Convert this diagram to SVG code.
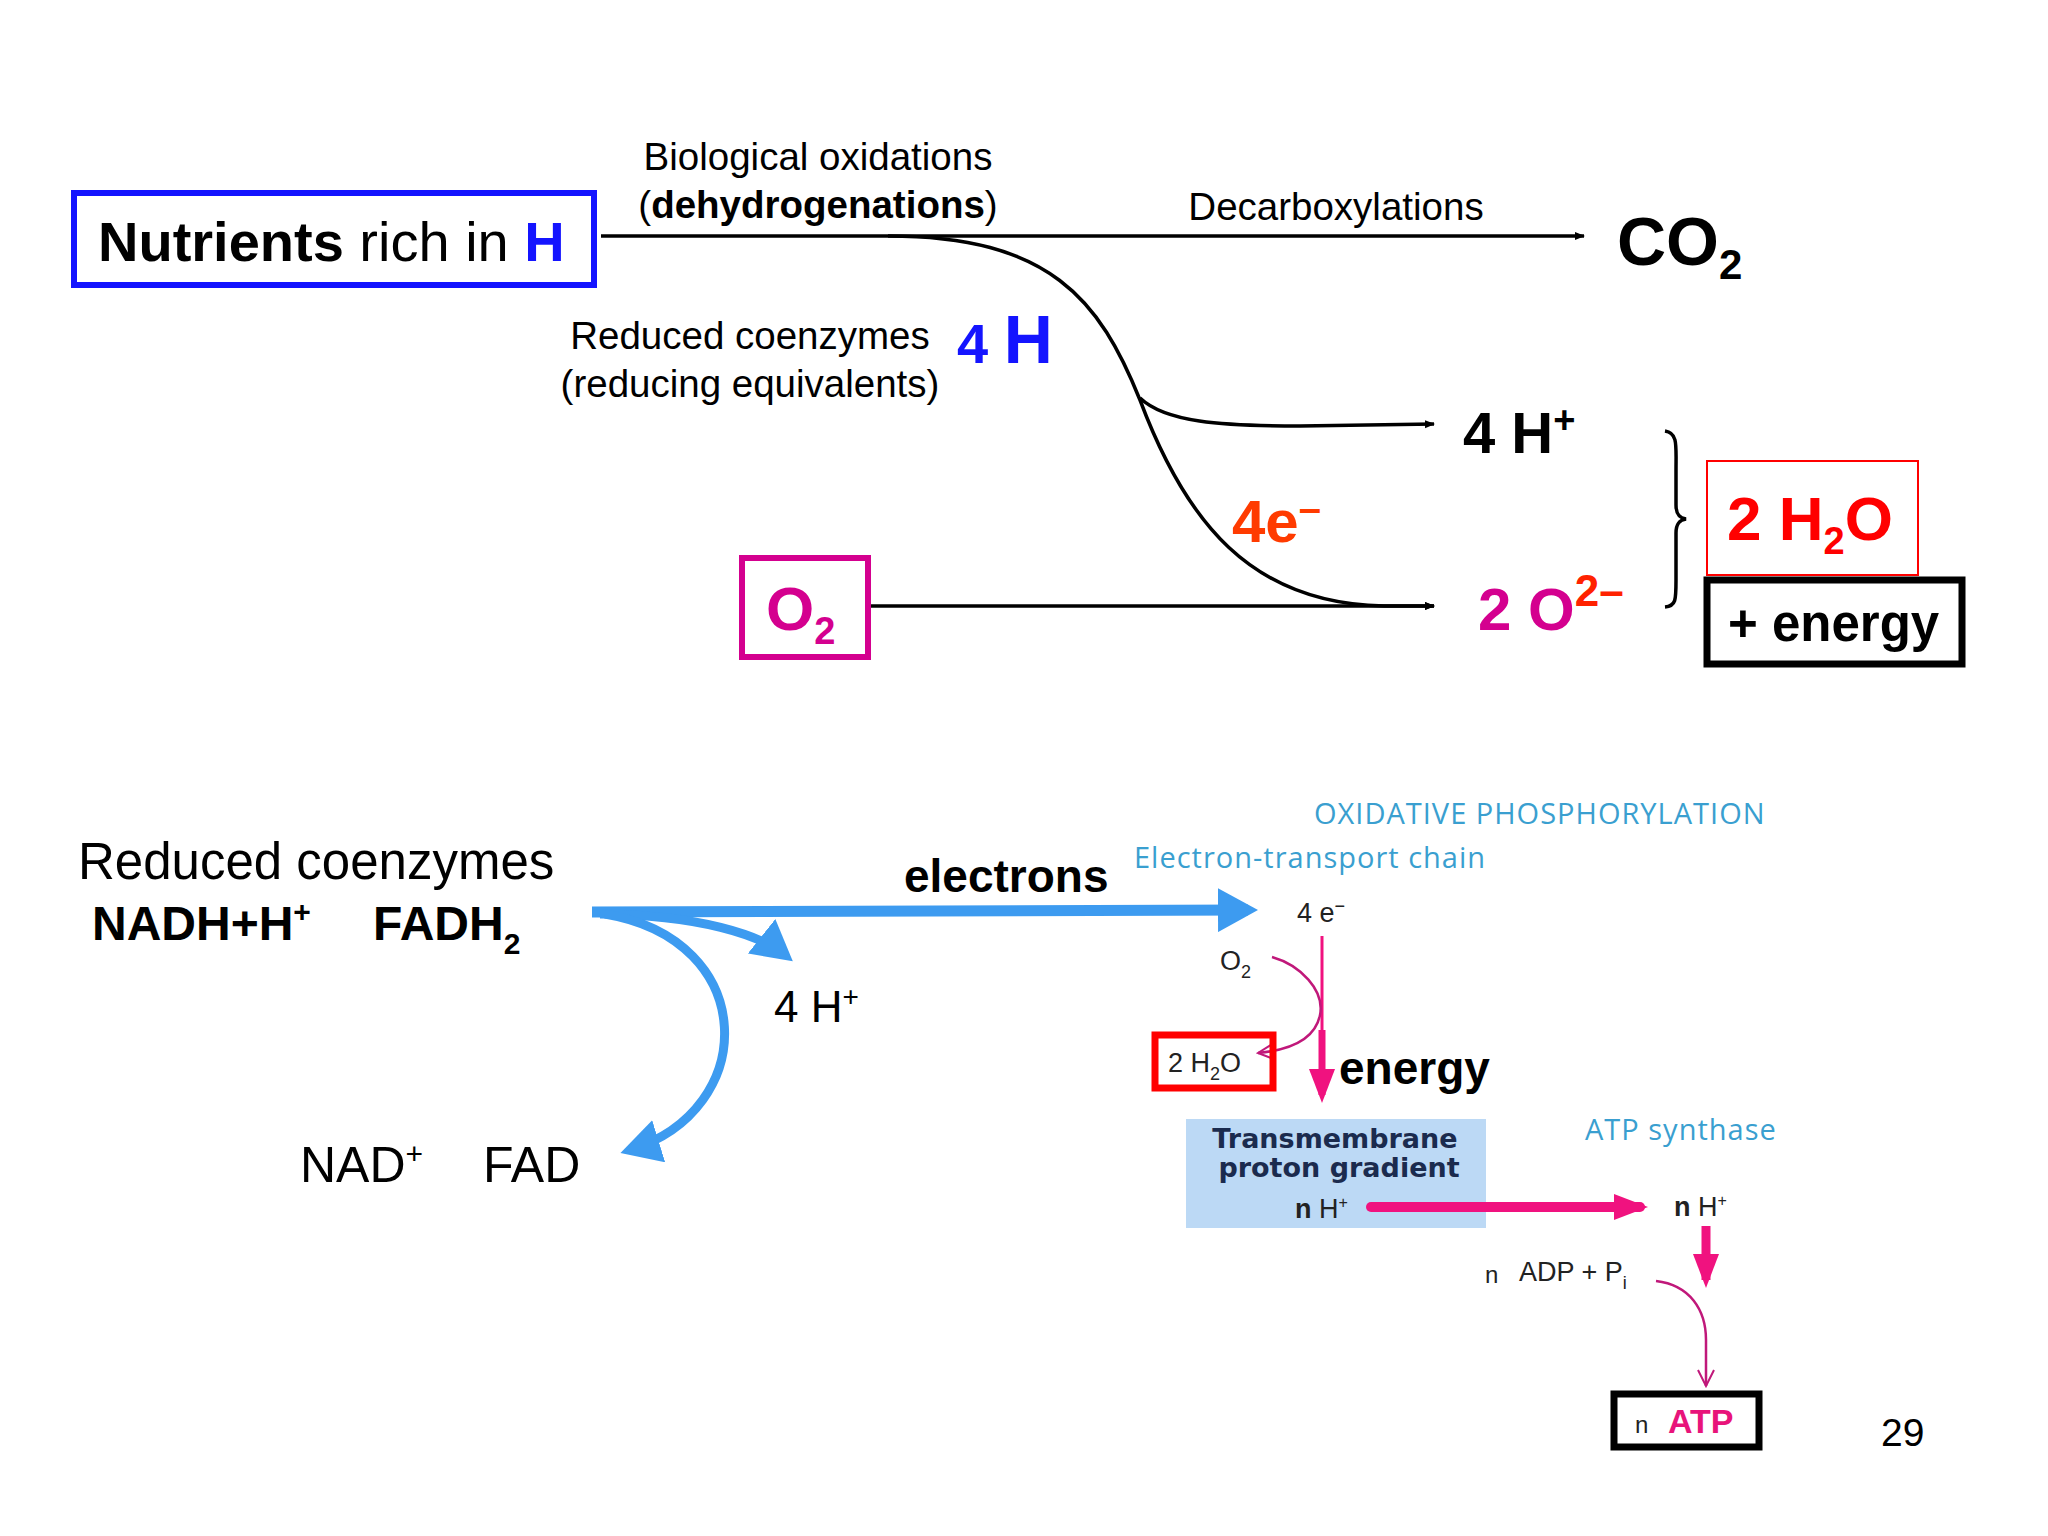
<svg xmlns="http://www.w3.org/2000/svg" width="2048" height="1536" viewBox="0 0 2048 1536">
<style>
text{font-family:"Liberation Sans",Arial,sans-serif}
.b{font-weight:bold}
.ln{fill:none;stroke:#000;stroke-width:3.5}
.bl{fill:none;stroke:#3d9bf0}
.mg{fill:none;stroke:#f0127f}
.cy{fill:#3a9fd0;font-family:"Open Sans","DejaVu Sans",sans-serif;letter-spacing:1px}
.nv{fill:#1b2b4e;font-family:"DejaVu Sans",sans-serif;font-weight:bold}
</style>
<defs>
<marker id="ab" markerWidth="10" markerHeight="10" refX="9" refY="5" orient="auto" markerUnits="userSpaceOnUse" viewBox="0 0 10 10"><path d="M0,1 L10,5 L0,9z" fill="#000"/></marker>
<marker id="abl" markerWidth="44" markerHeight="44" refX="30" refY="22" orient="auto" markerUnits="userSpaceOnUse" viewBox="0 0 44 44"><path d="M0,0 L40,22 L0,44z" fill="#3d9bf0"/></marker>
<marker id="am" markerWidth="34" markerHeight="34" refX="26" refY="17" orient="auto" markerUnits="userSpaceOnUse" viewBox="0 0 34 34"><path d="M0,4 L34,17 L0,30z" fill="#f0127f"/></marker>
<marker id="amt" markerWidth="20" markerHeight="20" refX="18" refY="10" orient="auto" markerUnits="userSpaceOnUse" viewBox="0 0 20 20"><path d="M2,2 L18,10 L2,18" fill="none" stroke="#c0187a" stroke-width="2"/></marker>
</defs>
<rect width="2048" height="1536" fill="#fff"/>
<rect id="gradient-bg" x="1186" y="1119" width="300" height="109" fill="#bcd9f5"/>
<g id="connectors">
<path class="ln" d="M601 236 L1584 236" marker-end="url(#ab)"/>
<path class="ln" d="M888 236 C1050 236 1100 300 1140 400 C1185 520 1250 604 1384 606 L1434 606" marker-end="url(#ab)"/>
<path class="ln" d="M1140 398 C1165 422 1220 426 1300 426 L1434 424" marker-end="url(#ab)"/>
<path class="ln" d="M870 606 L1434 606" marker-end="url(#ab)"/>
<path class="ln" stroke-width="2" d="M1665 431 C1678 433 1676 445 1676 470 L1676 505 C1676 515 1680 518 1686 519 C1680 520 1676 523 1676 533 L1676 580 C1676 600 1676 606 1665 607"/>
<path class="bl" stroke-width="11" d="M592 912 L1248 910" marker-end="url(#abl)"/>
<path class="bl" stroke-width="9" d="M600 914 C700 915 760 935 785 955" marker-end="url(#abl)"/>
<path class="bl" stroke-width="9" d="M605 914 C760 940 760 1110 630 1150" marker-end="url(#abl)"/>
<path class="mg" stroke-width="3" d="M1322 936 L1322 1030"/>
<path class="mg" stroke-width="7" d="M1322 1030 L1322 1095" marker-end="url(#am)"/>
<path fill="none" stroke="#c0187a" stroke-width="2.5" d="M1272 957 C1300 965 1325 990 1320 1015 C1315 1040 1290 1050 1258 1053" marker-end="url(#amt)"/>
<path class="mg" stroke-width="10" stroke-linecap="round" d="M1371 1207 L1640 1207" marker-end="url(#am)"/>
<path class="mg" stroke-width="9" d="M1706 1226 L1706 1280" marker-end="url(#am)"/>
<path fill="none" stroke="#c0187a" stroke-width="2.5" d="M1656 1281 C1690 1285 1706 1310 1706 1340 L1706 1386" marker-end="url(#amt)"/>
</g>
<g id="nutrients"><rect x="74" y="193" width="520" height="92" fill="none" stroke="#1414ff" stroke-width="6"/>
<text x="98" y="261" font-size="56"><tspan class="b">Nutrients</tspan> rich in <tspan class="b" fill="#1414ff">H</tspan></text></g>
<g id="labels-top">
<text x="818" y="170" font-size="38.5" text-anchor="middle">Biological oxidations</text>
<text x="818" y="218" font-size="38.5" text-anchor="middle">(<tspan class="b">dehydrogenations</tspan>)</text>
<text x="1336" y="220" font-size="38.5" text-anchor="middle">Decarboxylations</text>
<text x="750" y="349" font-size="38.5" text-anchor="middle">Reduced coenzymes</text>
<text x="750" y="397" font-size="38.5" text-anchor="middle">(reducing equivalents)</text>
<text x="957" y="363" class="b" fill="#1414ff" font-size="56">4 <tspan font-size="68">H</tspan></text>
<text x="1232" y="542" class="b" fill="#ff3b00" font-size="60">4e<tspan dy="-20" font-size="40">–</tspan></text>
</g>
<g id="co2"><text x="1617" y="265" class="b" font-size="68">CO<tspan dy="14" font-size="42">2</tspan></text></g>
<g id="hplus"><text x="1463" y="453" class="b" font-size="58">4 H<tspan dy="-20" font-size="38">+</tspan></text></g>
<g id="o2"><rect x="742" y="558" width="126" height="99" fill="none" stroke="#d4008f" stroke-width="6"/>
<text x="766" y="630" class="b" fill="#d4008f" font-size="62">O<tspan dy="14" font-size="38">2</tspan></text></g>
<g id="o2minus"><text x="1478" y="630" class="b" fill="#d4008f" font-size="60">2 O<tspan dy="-24" fill="#ff2200" font-size="44">2–</tspan></text></g>
<g id="water"><rect x="1707" y="461" width="211" height="114" fill="none" stroke="#ff0000" stroke-width="2"/>
<text x="1727" y="540" class="b" fill="#ff0000" font-size="62">2 H<tspan dy="14" font-size="38">2</tspan><tspan dy="-14">O</tspan></text></g>
<g id="energy-top"><rect x="1707" y="580" width="255" height="84" fill="none" stroke="#000" stroke-width="7"/>
<text x="1728" y="641" class="b" font-size="51">+ energy</text></g>
<g id="bottom-left">
<text x="78" y="879" font-size="51">Reduced coenzymes</text>
<text x="92" y="940" class="b" font-size="48">NADH+H<tspan dy="-18" font-size="30">+</tspan></text>
<text x="373" y="940" class="b" font-size="48">FADH<tspan dy="14" font-size="30">2</tspan></text>
<text x="904" y="892" class="b" font-size="46">electrons</text>
<text x="774" y="1022" font-size="44">4 H<tspan dy="-16" font-size="28">+</tspan></text>
<text x="300" y="1182" font-size="50">NAD<tspan dy="-18" font-size="30">+</tspan></text>
<text x="483" y="1182" font-size="50">FAD</text>
</g>
<g id="oxphos">
<text x="1314" y="824" class="cy" font-size="29">OXIDATIVE PHOSPHORYLATION</text>
<text x="1134" y="868" class="cy" font-size="29">Electron-transport chain</text>
<text x="1297" y="922" font-size="27" fill="#222">4 e<tspan dy="-10" font-size="18">−</tspan></text>
<text x="1220" y="970" font-size="27" fill="#222">O<tspan dy="8" font-size="18">2</tspan></text>
<rect x="1155" y="1035" width="118" height="53" fill="none" stroke="#ff0000" stroke-width="7"/>
<text x="1168" y="1072" font-size="27" fill="#222">2 H<tspan dy="8" font-size="18">2</tspan><tspan dy="-8">O</tspan></text>
<text x="1339" y="1084" class="b" font-size="46">energy</text>
<text x="1335" y="1148" class="nv" font-size="27" text-anchor="middle">Transmembrane</text>
<text x="1339" y="1177" class="nv" font-size="27" text-anchor="middle">proton gradient</text>
<text x="1295" y="1218" font-size="27" fill="#222"><tspan font-weight="bold">n</tspan> H<tspan dy="-10" font-size="16">+</tspan></text>
<text x="1585" y="1140" class="cy" font-size="29">ATP synthase</text>
<text x="1674" y="1216" font-size="27" fill="#222"><tspan font-weight="bold">n</tspan> H<tspan dy="-10" font-size="16">+</tspan></text>
<text x="1485" y="1283" font-size="24" fill="#222">n</text>
<text x="1519" y="1281" font-size="27" fill="#222">ADP + P<tspan dy="8" font-size="18">i</tspan></text>
</g>
<g id="atp"><rect x="1614" y="1394" width="145" height="53" fill="none" stroke="#000" stroke-width="7"/>
<text x="1635" y="1433" font-size="24" fill="#222">n</text>
<text x="1668" y="1433" class="b" font-size="34" fill="#e8147a">ATP</text></g>
<text x="1881" y="1446" font-size="39">29</text>
</svg>
